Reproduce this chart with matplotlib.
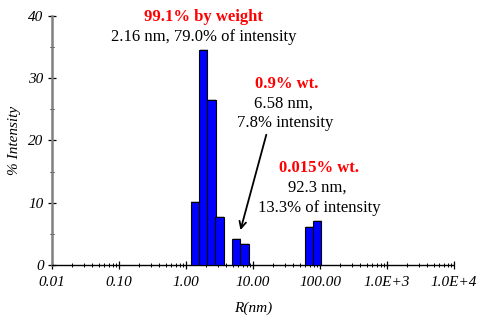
import numpy as np
import matplotlib
matplotlib.use("Agg")
import matplotlib.pyplot as plt
from matplotlib.ticker import FixedLocator, LogLocator, NullFormatter, MultipleLocator

# ---- data ----
radius_nm = [1.36, 1.81, 2.40, 3.16, 5.62, 7.48, 68.8, 90.5]   # bin centres (nm)
intensity = [10.1, 34.5, 26.5, 7.7, 4.2, 3.4, 6.15, 7.0]       # % intensity
bin_ratio = 1.333                                             # log-bin width factor
x_ticks = [0.01, 0.1, 1, 10, 100, 1000, 10000]
x_ticklabels = ['0.01', '0.10', '1.00', '10.00', '100.00', '1.0E+3', '1.0E+4']
y_ticks = [0, 10, 20, 30, 40]

W, H = 484, 323
fig = plt.figure(figsize=(W / 100, H / 100), dpi=100)
ax = fig.add_axes([52 / W, 1 - 265 / H, (454 - 52) / W, (265 - 15.7) / H])

serif = ['Liberation Serif', 'DejaVu Serif']

r = np.array(radius_nm)
left = r / np.sqrt(bin_ratio)
right = r * np.sqrt(bin_ratio)
ax.bar(left, intensity, width=right - left, align='edge', color='#0000FF',
       edgecolor='black', linewidth=0.8, zorder=3)
# faint shadow
ax.bar(left * 1.025, np.array(intensity) + 0.15, width=right - left, align='edge',
       color='#c8c8c8', edgecolor='none', zorder=2)

ax.set_xscale('log')
ax.set_xlim(0.01, 10000)
ax.set_ylim(0, 40)

ax.xaxis.set_major_locator(FixedLocator(x_ticks))
ax.set_xticklabels(x_ticklabels)
ax.xaxis.set_minor_locator(LogLocator(base=10, subs=np.arange(2, 10), numticks=20))
ax.xaxis.set_minor_formatter(NullFormatter())
ax.yaxis.set_major_locator(FixedLocator(y_ticks))
ax.yaxis.set_minor_locator(MultipleLocator(5))

for lab in ax.get_xticklabels() + ax.get_yticklabels():
    lab.set_family(serif)
    lab.set_style('italic')
    lab.set_fontsize(11)

ax.tick_params(axis='both', which='major', direction='inout', length=6, width=0.9, color='black')
ax.tick_params(axis='both', which='minor', direction='inout', length=3.5, width=0.7, color='black')
ax.tick_params(axis='x', which='major', pad=5)
ax.tick_params(axis='y', which='major', pad=3)

for s in ['top', 'right']:
    ax.spines[s].set_visible(False)
ax.spines['left'].set_color('#808080')
ax.spines['left'].set_linewidth(1.8)
ax.spines['bottom'].set_color('black')
ax.spines['bottom'].set_linestyle((0, (1, 1)))
ax.spines['bottom'].set_linewidth(1.0)

ax.set_xlabel('R(nm)', family=serif, style='italic', fontsize=11, labelpad=9)
ax.set_ylabel('% Intensity', family=serif, style='italic', fontsize=11, labelpad=5)

def ftext(px, py, s, color='black', bold=False):
    fig.text(px / W, 1 - py / H, s, ha='center', va='center', family=serif,
             fontsize=12, color=color, fontweight='bold' if bold else 'normal')

ftext(203, 17, '99.1% by weight', color='#FF0000', bold=True)
ftext(204, 37, '2.16 nm, 79.0% of intensity')
ftext(287, 84, '0.9% wt.', color='#FF0000', bold=True)
ftext(283, 104, '6.58 nm,')
ftext(285, 123, '7.8% intensity')
ftext(319, 168, '0.015% wt.', color='#FF0000', bold=True)
ftext(317, 188, '92.3 nm,')
ftext(319, 208, '13.3% of intensity')

ax.annotate('', xy=(6.5, 5.6), xytext=(15.8, 20.9), xycoords='data',
            arrowprops=dict(arrowstyle='->', color='black', lw=1.3,
                            mutation_scale=12, shrinkA=0, shrinkB=0))

fig.savefig('out.png', dpi=100)
